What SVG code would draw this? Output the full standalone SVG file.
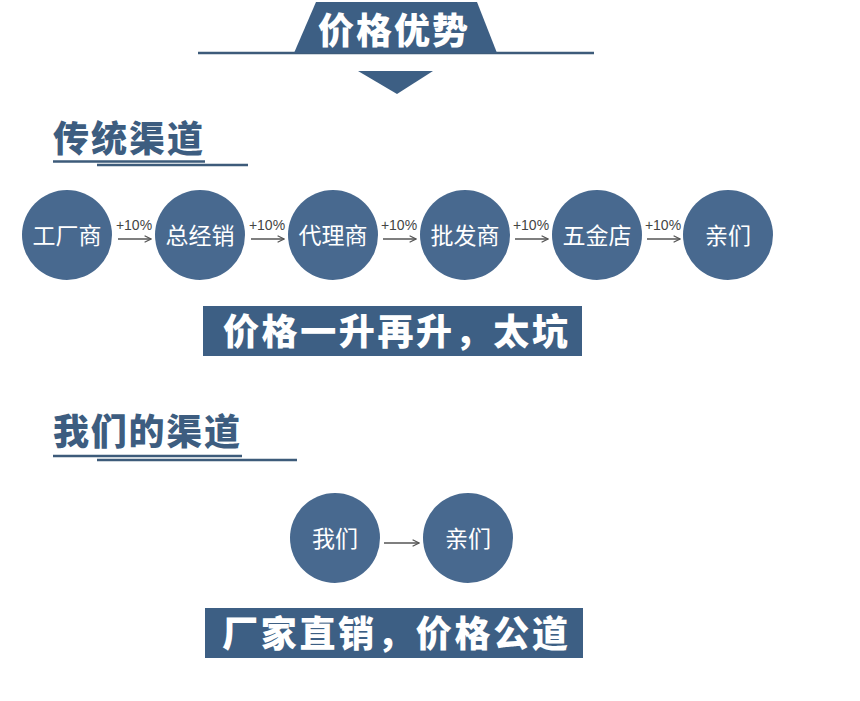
<svg xmlns="http://www.w3.org/2000/svg" width="860" height="701" viewBox="0 0 860 701">
<style>
.bg{fill:#ffffff}
.dark{fill:#3d5f84}
.circ{fill:#48698f}
.line{stroke:#3d5b7a;stroke-width:2.5}
.head{font-family:"Noto Sans CJK SC","Noto Sans CJK JP",sans-serif;font-weight:900;font-size:36px;fill:#3d5d80}
.ban{font-family:"Noto Sans CJK SC","Noto Sans CJK JP",sans-serif;font-weight:900;font-size:36px;fill:#ffffff}
.ctext{font-family:"Noto Sans CJK SC","Noto Sans CJK JP",sans-serif;font-size:23px;fill:#ffffff;text-anchor:middle}
.lbl{font-family:"Liberation Sans","DejaVu Sans",sans-serif;font-size:14px;fill:#444444;text-anchor:middle}
.arr{stroke:#555555;stroke-width:1.3;fill:none;marker-end:url(#ah)}
</style>
<defs>
<marker id="ah" viewBox="0 0 10 10" refX="9" refY="5" markerWidth="8" markerHeight="8" markerUnits="userSpaceOnUse" orient="auto">
<path d="M1,1 L9,5 L1,9" fill="none" stroke="#555555" stroke-width="1.5"/>
</marker>
</defs>
<rect class="bg" x="0" y="0" width="860" height="701"/>

<g id="title">
<line class="line" x1="198" y1="53" x2="594" y2="53"/>
<polygon class="dark" points="316,2 477,2 497,53 294,53"/>
<text class="ban" x="318" y="44" textLength="150" lengthAdjust="spacing">价格优势</text>
<polygon class="dark" points="358,71 433,71 397,94"/>
</g>

<g id="heading1">
<text class="head" x="53" y="152" textLength="150" lengthAdjust="spacing">传统渠道</text>
<line class="line" x1="53" y1="161.5" x2="205" y2="161.5" stroke-width="2"/>
<line class="line" x1="97" y1="165" x2="248" y2="165" stroke-width="2"/>
</g>

<g id="n1"><circle class="circ" cx="67" cy="235" r="45"/><text class="ctext" x="67" y="244">工厂商</text></g>
<g id="n2"><circle class="circ" cx="200" cy="235" r="45"/><text class="ctext" x="200" y="244">总经销</text></g>
<g id="n3"><circle class="circ" cx="333" cy="235" r="45"/><text class="ctext" x="333" y="244">代理商</text></g>
<g id="n4"><circle class="circ" cx="465" cy="235" r="45"/><text class="ctext" x="465" y="244">批发商</text></g>
<g id="n5"><circle class="circ" cx="597" cy="235" r="45"/><text class="ctext" x="597" y="244">五金店</text></g>
<g id="n6"><circle class="circ" cx="728" cy="235" r="45"/><text class="ctext" x="728" y="244">亲们</text></g>

<g id="connectors">
<line class="arr" x1="118" y1="239" x2="151" y2="239"/>
<line class="arr" x1="251" y1="239" x2="284" y2="239"/>
<line class="arr" x1="383" y1="239" x2="416" y2="239"/>
<line class="arr" x1="515" y1="239" x2="548" y2="239"/>
<line class="arr" x1="647" y1="239" x2="680" y2="239"/>
<line class="arr" x1="384" y1="543" x2="419" y2="543"/>
<text class="lbl" x="134" y="230">+10%</text>
<text class="lbl" x="267" y="230">+10%</text>
<text class="lbl" x="399" y="230">+10%</text>
<text class="lbl" x="531" y="230">+10%</text>
<text class="lbl" x="663" y="230">+10%</text>
</g>

<g id="banner1">
<rect class="dark" x="203" y="306" width="379" height="50"/>
<text class="ban" x="223" y="345" textLength="345" lengthAdjust="spacing">价格一升再升，太坑</text>
</g>

<g id="heading2">
<text class="head" x="53" y="445" textLength="187" lengthAdjust="spacing">我们的渠道</text>
<line class="line" x1="53" y1="456" x2="242" y2="456" stroke-width="2"/>
<line class="line" x1="97" y1="460" x2="297" y2="460" stroke-width="2"/>
</g>

<g id="m1"><circle class="circ" cx="335" cy="538" r="45"/><text class="ctext" x="335" y="547">我们</text></g>
<g id="m2"><circle class="circ" cx="468" cy="538" r="45"/><text class="ctext" x="468" y="547">亲们</text></g>

<g id="banner2">
<rect class="dark" x="205" y="608" width="378" height="50"/>
<text class="ban" x="222" y="647" textLength="346" lengthAdjust="spacing">厂家直销，价格公道</text>
</g>
</svg>
